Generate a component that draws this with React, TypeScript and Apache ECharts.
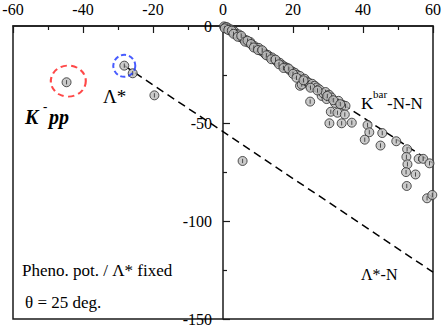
import React, { useEffect, useRef } from "react";
import * as echarts from "echarts";

// K-bar N N computed points
const knnBandPoints: [number, number][] = [
  [0.3, -0.2], [0.6, -0.8], [1.0, -0.5], [1.2, -1.5], [1.6, -1.2], [2.0, -2.3], [2.3, -1.8],
  [2.8, -3.1], [3.2, -2.7], [3.6, -4.0], [4.0, -4.6], [4.5, -4.3], [5.0, -5.7], [5.5, -6.2],
  [6.0, -7.0], [6.6, -7.3], [7.2, -8.4], [7.8, -8.2], [8.3, -9.7], [9.0, -10.3], [9.6, -11.4],
  [10.2, -11.2], [10.8, -12.7], [11.5, -13.3], [12.0, -14.3], [12.8, -14.8], [13.4, -15.9],
  [14.0, -16.1], [14.8, -17.3], [15.5, -18.3], [16.2, -18.8], [17.0, -20.1], [17.6, -20.8],
  [18.3, -21.4], [19.0, -22.5], [19.8, -23.3], [20.5, -23.9], [21.2, -25.0], [22.0, -25.6],
  [22.0, -30.6], [22.5, -30.0], [23.3, -27.0], [23.9, -28.4], [24.5, -29.0], [24.9, -30.7],
  [25.5, -29.6], [26.2, -30.6], [26.8, -31.5], [27.5, -32.4], [28.2, -35.8], [28.7, -34.5],
  [29.3, -33.8], [29.6, -37.4], [30.3, -35.2], [31.0, -36.6], [32.0, -39.4], [33.0, -38.3],
  [34.2, -40.4], [35.0, -40.9],
  [0.5, -1.2], [1.5, -2.0], [2.5, -2.4], [3.0, -4.0], [4.2, -5.5], [5.2, -5.0], [6.3, -8.0],
  [7.0, -7.5], [8.0, -9.2], [8.8, -11.0], [10.0, -12.3], [11.2, -12.4], [12.4, -15.0],
  [13.8, -17.0], [15.0, -17.2], [16.0, -19.6], [17.3, -21.5], [18.8, -21.8], [20.0, -24.5],
  [21.0, -26.5], [23.0, -27.8], [25.0, -31.6], [27.0, -33.0], [29.8, -35.8], [31.5, -38.0],
  [33.5, -40.0],
];
const knnScatterPoints: [number, number][] = [
  [5.6, -69.1], [24.9, -38.7],
  [30.8, -43.9], [32.7, -44.4], [34.8, -45.3],
  [30.4, -49.8], [33.9, -49.8], [36.8, -49.5],
  [41.3, -50.7], [41.8, -54.4], [40.5, -58.2], [45.5, -54.8], [45.0, -61.2], [49.5, -59.0],
  [52.6, -63.1], [52.4, -67.0], [52.7, -70.8], [52.3, -74.8], [55.0, -76.0], [52.5, -81.9],
  [55.9, -68.0], [57.2, -68.0], [59.0, -70.3], [58.3, -88.2], [59.8, -86.5],
];
const kppPoints: [number, number][] = [[-44.7, -28.8]];
const lambdaPoints: [number, number][] = [[-28.2, -20.3], [-25.8, -24.2], [-19.6, -35.5]];
const lambdaNLine: [number, number][] = [[-28.2, -20.3], [60, -126]];
const knnLine: [number, number][] = [[0, 0], [60, -70.2]];
const kppCircle: [number, number][] = [[-44.2, -28.2]];
const lambdaCircle: [number, number][] = [[-28.2, -20.4]];

const SERIF = "Liberation Serif";
const POINT_SYMBOL = "path://M5,0A5,5 0 1,1 5,10A5,5 0 1,1 5,0Z M5,2.6L5,7.4";

export default function App() {
  const ref = useRef<HTMLDivElement>(null);
  useEffect(() => {
    if (!ref.current) return;
    const chart = echarts.init(ref.current, null, { renderer: "svg" });
    const pointStyle = { color: "#bdbdbd", borderColor: "#2a2a2a", borderWidth: 1 };
    const txt = (text: string, x: number, y: number, size: number, extra: any = {}) => ({
      type: "text",
      x,
      y,
      z: 100,
      style: {
        text,
        fill: "#000",
        fontSize: size,
        fontFamily: SERIF,
        align: "left",
        verticalAlign: "middle",
        ...extra,
      },
    });
    chart.setOption({
      animation: false,
      grid: {
        left: 13,
        right: 10,
        top: 26,
        bottom: 9,
        show: true,
        borderColor: "#1a1a1a",
        borderWidth: 1.5,
        backgroundColor: "transparent",
        containLabel: false,
        outerBoundsMode: "none",
      },
      xAxis: {
        type: "value",
        min: -60,
        max: 60,
        interval: 20,
        position: "top",
        axisLine: { onZero: false, lineStyle: { color: "#1a1a1a", width: 1.5 } },
        axisTick: { inside: true, length: 7, lineStyle: { color: "#1a1a1a", width: 1.2 } },
        minorTick: { show: true, splitNumber: 2, length: 4, lineStyle: { color: "#1a1a1a", width: 1.2 } },
        axisLabel: { color: "#000", fontSize: 16, fontFamily: SERIF, margin: 9 },
        splitLine: { show: false },
      },
      yAxis: {
        type: "value",
        min: -150,
        max: 0,
        interval: 50,
        position: "left",
        offset: -210,
        axisLine: { show: true, onZero: false, lineStyle: { color: "#1a1a1a", width: 1.5 } },
        axisTick: { show: true, inside: true, length: 7, lineStyle: { color: "#1a1a1a", width: 1.2 } },
        minorTick: { show: true, splitNumber: 2, length: 4, lineStyle: { color: "#1a1a1a", width: 1.2 } },
        axisLabel: { color: "#000", fontSize: 16, fontFamily: SERIF, margin: 11 },
        splitLine: { show: false },
      },
      series: [
        {
          type: "line",
          data: lambdaNLine,
          symbol: "none",
          lineStyle: { color: "#000", width: 1.5, type: [8, 5] },
          z: 1,
        },
        {
          type: "line",
          data: knnLine,
          symbol: "none",
          lineStyle: { color: "#000", width: 1.5, type: [8, 5] },
          z: 1,
        },
        {
          type: "scatter",
          data: [...knnBandPoints, ...knnScatterPoints],
          symbol: POINT_SYMBOL,
          symbolSize: 9,
          itemStyle: pointStyle,
          clip: false,
          z: 3,
        },
        {
          type: "scatter",
          data: [...kppPoints, ...lambdaPoints],
          symbol: POINT_SYMBOL,
          symbolSize: 9,
          itemStyle: pointStyle,
          clip: false,
          z: 3,
        },
        {
          type: "scatter",
          data: kppCircle,
          symbol: "circle",
          symbolSize: [35, 31],
          itemStyle: { color: "transparent", borderColor: "#ff1a1a", borderWidth: 2, borderType: [6, 4] },
          z: 4,
        },
        {
          type: "scatter",
          data: lambdaCircle,
          symbol: "circle",
          symbolSize: [22, 22],
          itemStyle: { color: "transparent", borderColor: "#1a33ff", borderWidth: 2, borderType: [5, 3] },
          z: 4,
        },
      ],
      graphic: [
        txt("K", 361, 103, 17),
        txt("bar", 373, 94, 11),
        txt("-N-N", 387, 103, 17),
        txt("Λ*-N", 361, 274, 16),
        txt("Λ*", 103, 96, 19),
        txt("K", 25, 117, 20, { fontStyle: "italic", fontWeight: "bold" }),
        txt("-", 43, 106, 13, { fontWeight: "bold" }),
        txt("pp", 49, 117, 20, { fontStyle: "italic", fontWeight: "bold" }),
        txt("Pheno. pot. / Λ* fixed", 22, 270, 17),
        txt("θ = 25 deg.", 25, 302, 17),
      ],
    });
    return () => chart.dispose();
  }, []);
  return (
    <div
      ref={ref}
      style={{ position: "absolute", left: 0, top: 0, width: 443, height: 328, background: "#fff" }}
    />
  );
}
